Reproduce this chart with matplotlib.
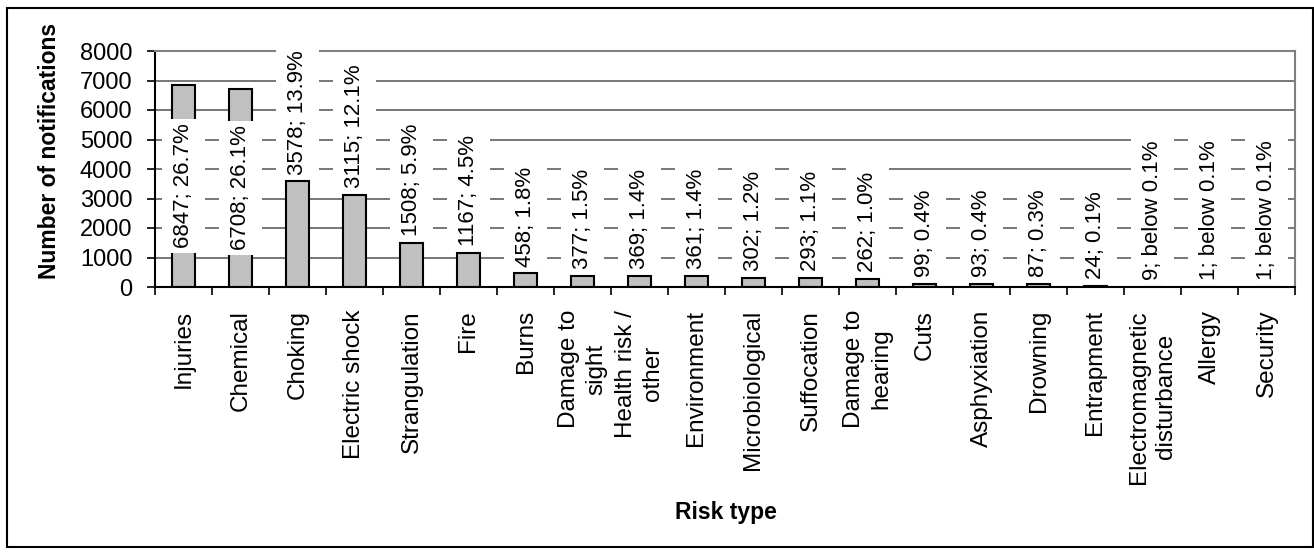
import matplotlib.pyplot as plt
import matplotlib.patches as patches
import numpy as np

plt.rcParams['font.family'] = ['Liberation Sans', 'DejaVu Sans']

risk_types = ['Injuries', 'Chemical', 'Choking', 'Electric shock', 'Strangulation',
              'Fire', 'Burns', 'Damage to\nsight', 'Health risk /\nother', 'Environment',
              'Microbiological', 'Suffocation', 'Damage to\nhearing', 'Cuts',
              'Asphyxiation', 'Drowning', 'Entrapment', 'Electromagnetic\ndisturbance',
              'Allergy', 'Security']
notifications = [6847, 6708, 3578, 3115, 1508, 1167, 458, 377, 369, 361,
                 302, 293, 262, 99, 93, 87, 24, 9, 1, 1]
shares = ['26.7%', '26.1%', '13.9%', '12.1%', '5.9%', '4.5%', '1.8%', '1.5%',
          '1.4%', '1.4%', '1.2%', '1.1%', '1.0%', '0.4%', '0.4%', '0.3%', '0.1%',
          'below 0.1%', 'below 0.1%', 'below 0.1%']
yticks = [0, 1000, 2000, 3000, 4000, 5000, 6000, 7000, 8000]

W, H = 1314, 553
fig = plt.figure(figsize=(W / 100, H / 100), dpi=100)
ax = fig.add_axes([155 / W, 1 - 287 / H, (1295 - 155) / W, (287 - 51) / H])

x = np.arange(len(risk_types))
ax.bar(x, notifications, width=0.4, color='#c0c0c0', edgecolor='black',
       linewidth=1.5, zorder=2)

ax.set_xlim(-0.5, len(risk_types) - 0.5)
ax.set_ylim(0, 8000)
ax.set_yticks(yticks)
ax.set_yticklabels([str(v) for v in yticks], fontsize=17)
ax.yaxis.grid(True, color='#606060', linewidth=1.2, zorder=0)
ax.set_axisbelow(True)

# category names at centres, tick marks on the boundaries
ax.set_xticks(x)
ax.set_xticklabels(risk_types, rotation=90, fontsize=17.5, va='top', ha='center',
                   multialignment='center', linespacing=1.3)
ax.set_xticks(np.arange(len(risk_types) + 1) - 0.5, minor=True)
ax.tick_params(axis='x', which='major', length=0, pad=16.5)
ax.tick_params(axis='x', which='minor', length=5.8, width=1.2, direction='out')
ax.tick_params(axis='y', length=5.8, width=1.2, direction='out', pad=10.5)

for side in ['left', 'bottom']:
    ax.spines[side].set_color('black')
    ax.spines[side].set_linewidth(1.5)
for side in ['right', 'top']:
    ax.spines[side].set_color('#808080')
    ax.spines[side].set_linewidth(1.5)

# value labels on white boxes, wider across the text than along it;
# the two tallest bars carry theirs in the middle
for i, (n, s) in enumerate(zip(notifications, shares)):
    label = f'{n}; {s}'
    box = dict(boxstyle='square,pad=0.19', mutation_aspect=2.6,
               facecolor='white', edgecolor='none')
    if n > 5000:
        ax.text(i, n / 2, label, rotation=90, ha='center', va='center',
                fontsize=16, bbox=box, zorder=4)
    else:
        ax.annotate(label, (i, n), xytext=(0, 5), textcoords='offset points',
                    rotation=90, ha='center', va='bottom', fontsize=16,
                    bbox=box, zorder=4)

fig.text(50 / W, 1 - 151 / H, 'Number of notifications', rotation=90,
         ha='center', va='center', fontsize=16.5, fontweight='bold')
fig.text(726 / W, 1 - 512 / H, 'Risk type', ha='center', va='center',
         fontsize=16.5, fontweight='bold')

fig.patches.append(patches.Rectangle((7 / W, 1 - 547 / H), (1313 - 7) / W,
                                     (547 - 8) / H, transform=fig.transFigure,
                                     fill=False, edgecolor='black', linewidth=1.5))

fig.savefig('out.png', dpi=100)
